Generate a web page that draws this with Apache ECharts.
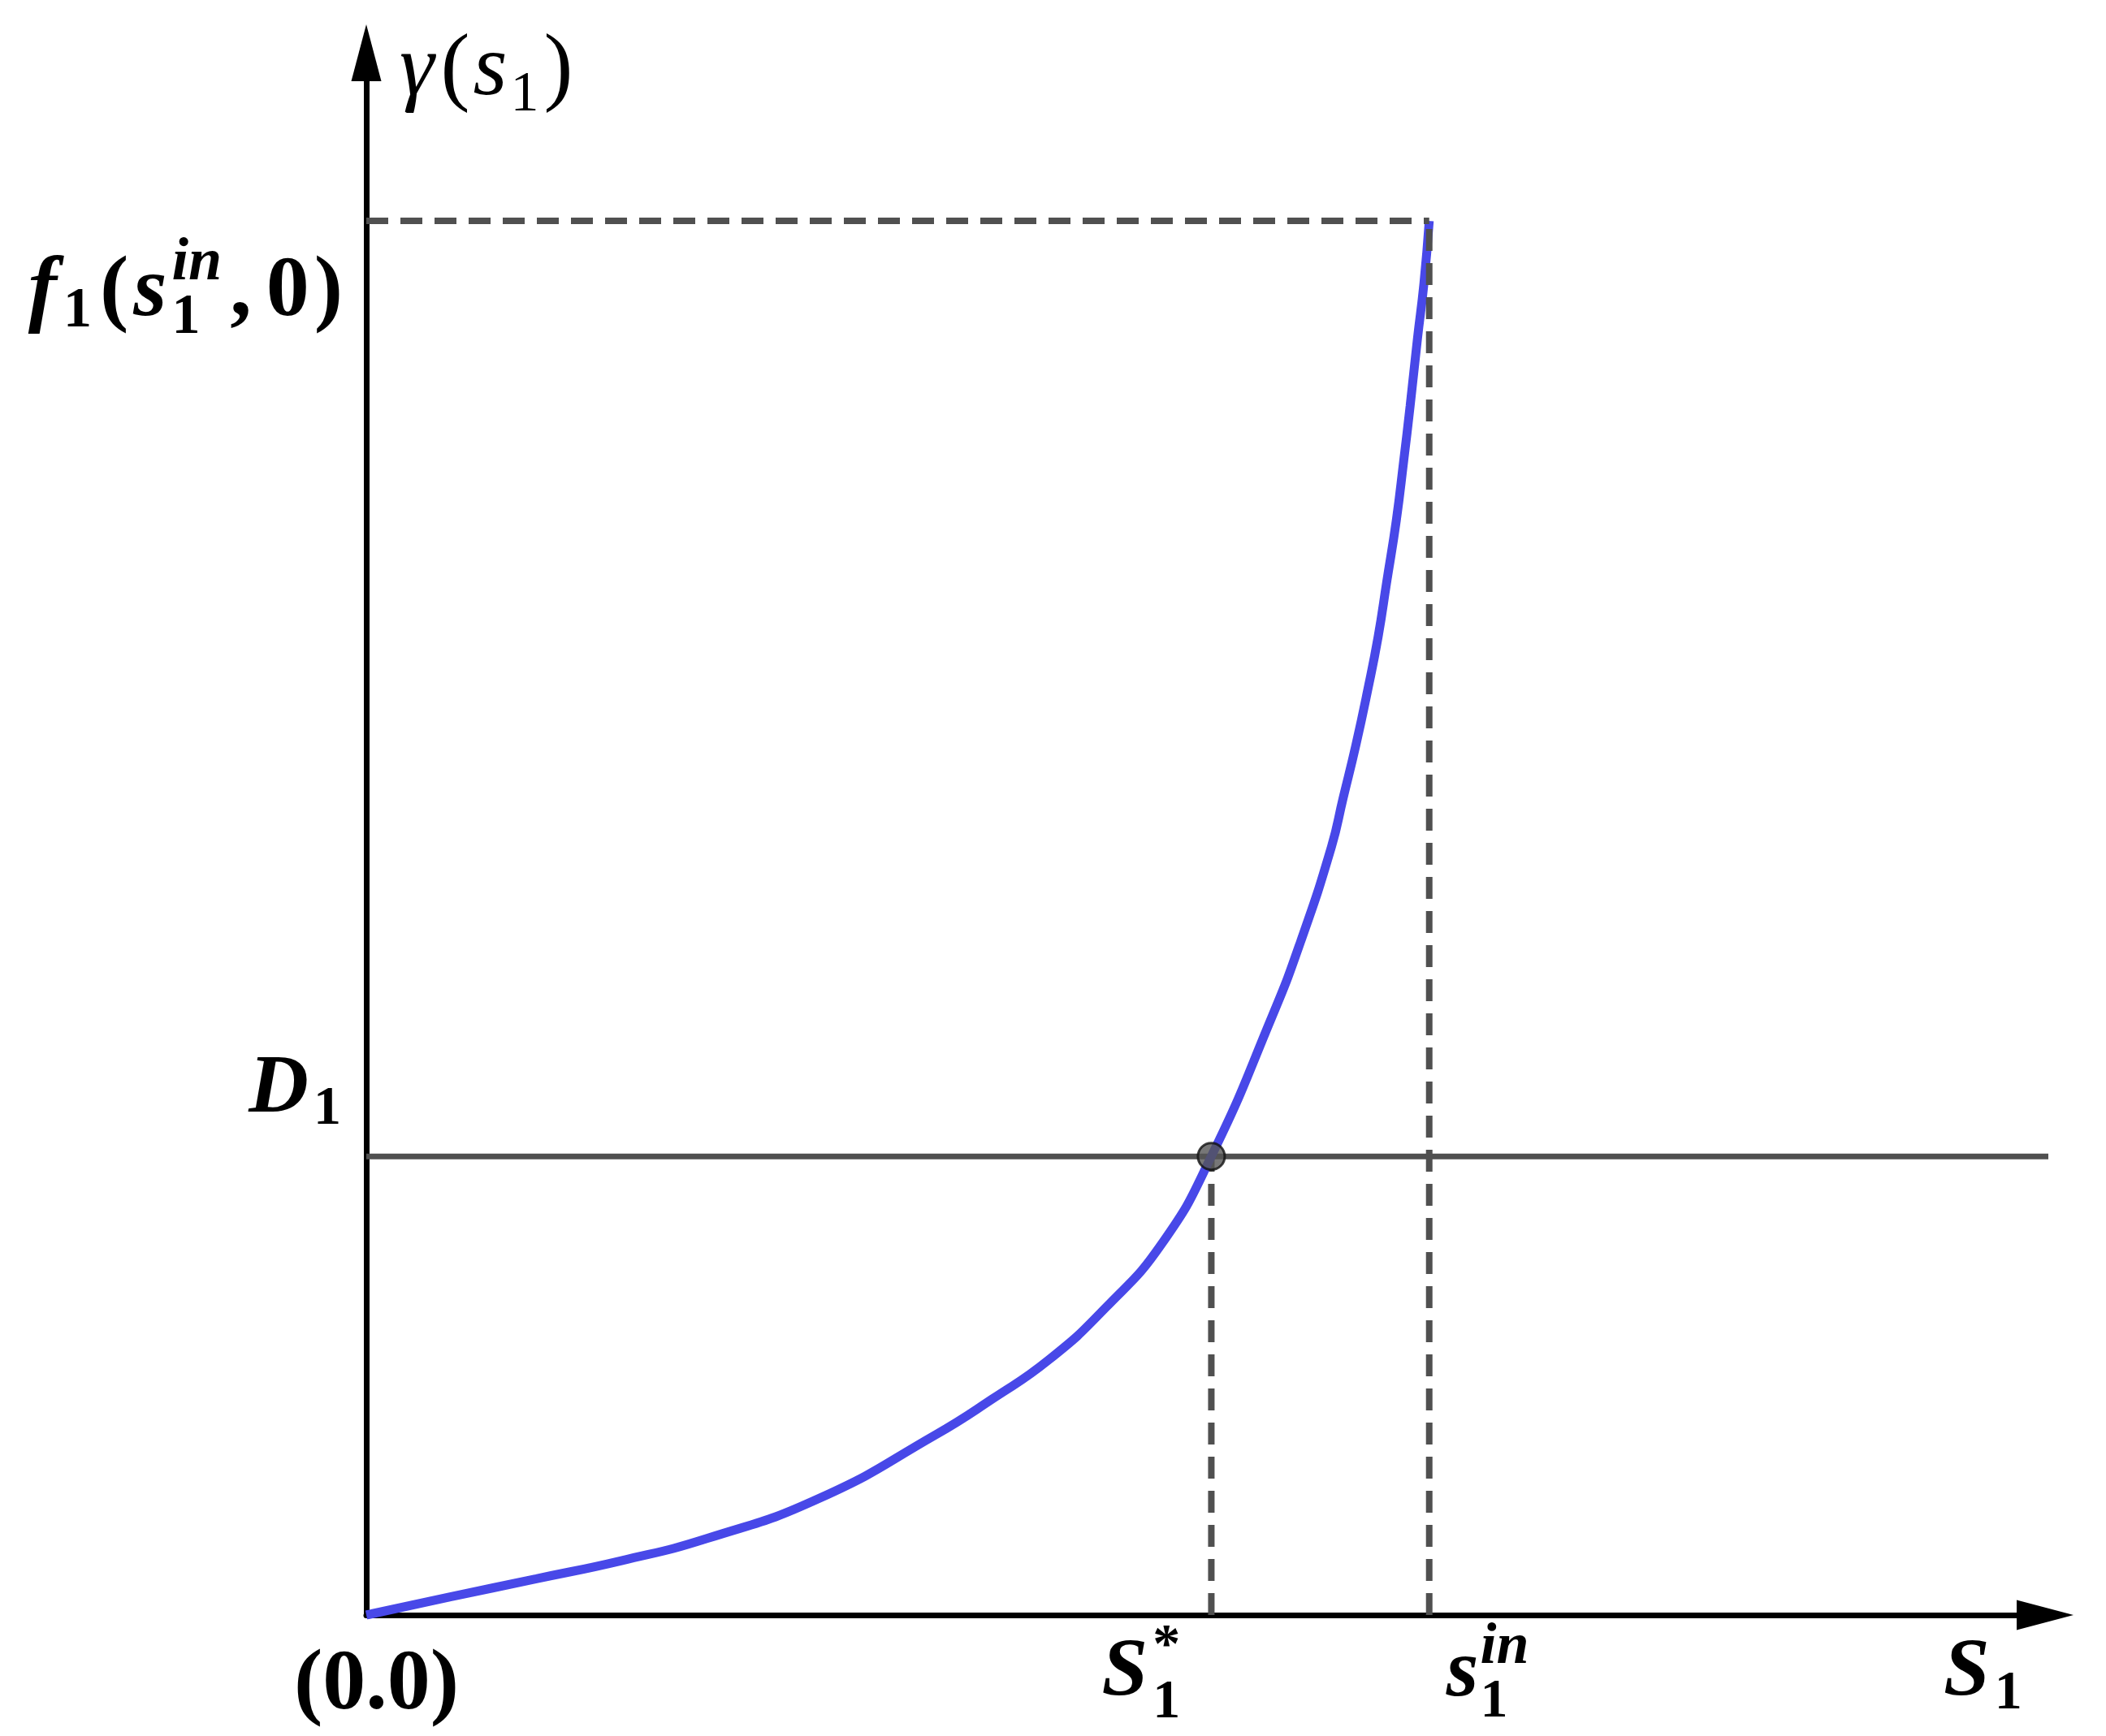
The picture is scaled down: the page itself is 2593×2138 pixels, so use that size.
<!DOCTYPE html>
<html>
<head>
<meta charset="utf-8">
<script src="https://cdn.jsdelivr.net/npm/echarts@6/dist/echarts.min.js"></script>
<style>
  html, body { margin: 0; padding: 0; background: #fff; }
  #chart { width: 2593px; height: 2138px; }
</style>
</head>
<body>
<div id="chart"></div>
<script>
// gamma(s1); s1 in units of s1^in, gamma in units of f1(s1^in, 0)
const sValues = [0, 0.079, 0.160, 0.240, 0.321, 0.427, 0.535, 0.589, 0.642, 0.695, 0.749, 0.795, 0.852, 0.879, 0.908, 0.919, 0.931, 0.942, 0.952, 0.960, 0.969, 0.976, 0.982, 0.989, 0.995, 1]
const gammaValues = [0, 0.013, 0.026, 0.039, 0.055, 0.084, 0.129, 0.155, 0.183, 0.220, 0.267, 0.329, 0.429, 0.483, 0.551, 0.586, 0.624, 0.663, 0.702, 0.741, 0.785, 0.828, 0.867, 0.916, 0.955, 1]

const sStar = 0.795 // S1*
const sIn = 1 // s1^in
const dLevel = 0.329 // D1
const fTop = 1 // f1(s1^in, 0)
const xMax = 1.5794
const yMax = 1.1206
const dLineEnd = 1.611

const BLUE = '#4848e8'
const GREY = '#505050'
const FAMILY = '"Liberation Serif", "DejaVu Serif", serif'

const chart = echarts.init(document.getElementById('chart'))

const dashStyle = { color: GREY, width: 8, type: [27, 15] }
function seg (points, lineStyle, z) {
  return {
    type: 'line',
    data: points,
    symbol: 'none',
    lineStyle: lineStyle,
    silent: true,
    clip: false,
    z: z
  }
}

chart.setOption({
  animation: false,
  backgroundColor: '#fff',
  grid: { left: 451, top: 65, width: 2067, height: 1924 },
  xAxis: {
    type: 'value',
    min: 0,
    max: xMax,
    axisLine: {
      show: true,
      symbol: ['none', 'triangle'],
      symbolSize: [37, 70],
      lineStyle: { color: '#000', width: 7 }
    },
    axisTick: { show: false },
    axisLabel: { show: false },
    splitLine: { show: false }
  },
  yAxis: {
    type: 'value',
    min: 0,
    max: yMax,
    axisLine: {
      show: true,
      symbol: ['none', 'triangle'],
      symbolSize: [37, 70],
      lineStyle: { color: '#000', width: 7 }
    },
    axisTick: { show: false },
    axisLabel: { show: false },
    splitLine: { show: false }
  },
  series: [
    {
      type: 'line',
      data: sValues.map((s, i) => [s, gammaValues[i]]),
      symbol: 'none',
      smooth: 0.5,
      lineStyle: { color: BLUE, width: 11 },
      z: 3
    },
    seg([[0, dLevel], [dLineEnd, dLevel]], { color: GREY, width: 7 }, 2),
    seg([[0, fTop], [sIn, fTop]], dashStyle, 4),
    seg([[sIn, 0], [sIn, fTop]], dashStyle, 4),
    seg([[sStar, 0], [sStar, dLevel]], dashStyle, 2),
    {
      type: 'scatter',
      data: [[sStar, dLevel]],
      symbolSize: 33,
      itemStyle: { color: '#555', borderColor: '#111', borderWidth: 3 },
      z: 6
    }
  ]
})

// math style labels, built from small text pieces
const measureCtx = document.createElement('canvas').getContext('2d')
function fontOf (p) {
  return (p.it ? 'italic ' : '') + (p.b ? 'bold ' : '') + p.size + 'px ' + FAMILY
}
function midOffset (font) {
  measureCtx.font = font
  measureCtx.textBaseline = 'middle'
  return measureCtx.measureText('x').actualBoundingBoxDescent
}
function mathLabel (pieces, x, baseline, align) {
  const widths = pieces.map(p => {
    measureCtx.font = fontOf(p)
    return measureCtx.measureText(p.t).width
  })
  const pos = []
  let total = 0
  let i = 0
  while (i < pieces.length) {
    if (pieces[i].over) {
      pos[i] = total
      pos[i + 1] = total
      total += Math.max(widths[i], widths[i + 1]) + (pieces[i + 1].gap || 0)
      i += 2
    } else {
      pos[i] = total
      total += widths[i] + (pieces[i].gap || 0)
      i++
    }
  }
  const x0 = align === 'right' ? x - total : x
  return pieces.map((p, k) => ({
    type: 'text',
    x: x0 + pos[k] + (p.dx || 0),
    y: baseline + (p.dy || 0) - midOffset(fontOf(p)),
    z: 100,
    style: { text: p.t, font: fontOf(p), fill: '#000', align: 'left', verticalAlign: 'middle' }
  }))
}

const origin = chart.convertToPixel({ gridIndex: 0 }, [0, 0])
const pStar = chart.convertToPixel({ gridIndex: 0 }, [sStar, dLevel])
const pIn = chart.convertToPixel({ gridIndex: 0 }, [sIn, fTop])
const pEnd = chart.convertToPixel({ gridIndex: 0 }, [xMax, 0])
const bottomBase = origin[1] + 99

const graphics = [].concat(
  mathLabel([
    { t: 'γ', size: 108, it: 1, gap: 8 },
    { t: '(', size: 108, gap: 4 },
    { t: 's', size: 108, it: 1, gap: 4 },
    { t: '1', size: 70, dy: 20, gap: 6 },
    { t: ')', size: 108 }
  ], origin[0] + 41, 116, 'left'),
  mathLabel([
    { t: 'f', size: 106, it: 1, b: 1, gap: 8 },
    { t: '1', size: 70, b: 1, dy: 14, gap: 10 },
    { t: '(', size: 106, b: 1, gap: 6 },
    { t: 's', size: 106, it: 1, b: 1, gap: 6 },
    { t: 'in', size: 74, it: 1, b: 1, dy: -44, over: 1 },
    { t: '1', size: 70, b: 1, dy: 22, gap: 10 },
    { t: ',', size: 106, b: 1, gap: 18 },
    { t: '0', size: 106, b: 1, gap: 6 },
    { t: ')', size: 106, b: 1 }
  ], origin[0] - 29, pIn[1] + 116, 'right'),
  mathLabel([
    { t: 'D', size: 102, it: 1, b: 1, gap: 6 },
    { t: '1', size: 68, b: 1, dy: 15 }
  ], origin[0] - 31, pStar[1] - 55, 'right'),
  mathLabel([
    { t: '(0.0)', size: 106, b: 1 }
  ], origin[0] - 89, origin[1] + 115, 'left'),
  mathLabel([
    { t: 'S', size: 102, it: 1, b: 1, gap: 6 },
    { t: '*', size: 68, b: 1, dy: -42, over: 1 },
    { t: '1', size: 68, b: 1, dy: 27 }
  ], pStar[0] - 135, bottomBase, 'left'),
  mathLabel([
    { t: 's', size: 102, it: 1, b: 1, gap: 2 },
    { t: 'in', size: 72, it: 1, b: 1, dy: -40, over: 1 },
    { t: '1', size: 68, b: 1, dy: 26 }
  ], pIn[0] + 21, bottomBase, 'left'),
  mathLabel([
    { t: 'S', size: 102, it: 1, b: 1, gap: 6 },
    { t: '1', size: 68, b: 1, dy: 16 }
  ], pEnd[0] - 125, bottomBase, 'left')
)

chart.setOption({ graphic: graphics })
</script>
</body>
</html>
